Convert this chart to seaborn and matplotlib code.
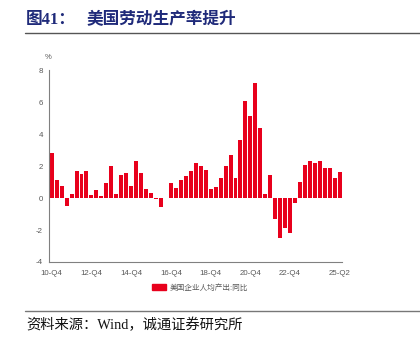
import matplotlib
matplotlib.use("Agg")
import matplotlib.pyplot as plt
import matplotlib.patches as mpatches
from matplotlib.lines import Line2D
import seaborn as sns
import pandas as pd

sns.set_theme(style="white")
plt.rcParams['font.family'] = ['Liberation Sans', 'Noto Sans CJK SC', 'DejaVu Sans']

# Quarterly labels 2010Q4 .. 2025Q2
quarters = [f"{y % 100:02d}-Q{q}" for y in range(2010, 2026) for q in range(1, 5)]
quarters = quarters[quarters.index("10-Q4"):quarters.index("25-Q2") + 1]

# US nonfarm business output per worker, YoY (%)
productivity_yoy = [
    2.83, 1.13, 0.77, -0.52, 0.25, 1.68, 1.49, 1.68, 0.17, 0.50,
    0.13, 0.94, 2.01, 0.27, 1.45, 1.59, 0.77, 2.30, 1.55, 0.59,
    0.31, -0.06, -0.59, -0.02, 0.96, 0.65, 1.15, 1.36, 1.68, 2.16,
    2.03, 1.78, 0.57, 0.69, 1.28, 1.99, 2.72, 1.24, 3.62, 6.07,
    5.15, 7.18, 4.40, 0.27, 1.45, -1.32, -2.53, -1.90, -2.16, -0.29,
    1.03, 2.09, 2.30, 2.20, 2.32, 1.90, 1.88, 1.28, 1.63,
]

tick_labels = ["10-Q4", "12-Q4", "14-Q4", "16-Q4", "18-Q4", "20-Q4", "22-Q4", "25-Q2"]
y_ticks = [-4, -2, 0, 2, 4, 6, 8]

series_name = "美国企业人均产出:同比"
bar_color = "#E8001C"
axis_gray = "#808080"
text_gray = "#595959"

df = pd.DataFrame({"quarter": quarters, "value": productivity_yoy})

fig = plt.figure(figsize=(4.2, 3.47), dpi=100)
ax = fig.add_axes([0.1174, 0.245, 0.697, 0.553])

sns.barplot(data=df, x="quarter", y="value", order=quarters, color=bar_color,
            saturation=1, width=0.8, ax=ax, edgecolor="none")

ax.set_xlim(-0.48, 58.45)
ax.set_ylim(-4, 8)
ax.set_yticks(y_ticks)
ax.set_yticklabels([str(v) for v in y_ticks])

# every 4th quarter gets a tick, labels on every 8th plus the latest quarter
tick_pos = list(range(0, len(quarters), 4)) + [len(quarters) - 1]
ax.set_xticks(tick_pos)
ax.set_xticklabels([quarters[i] if quarters[i] in tick_labels else "" for i in tick_pos])

ax.set_xlabel("")
ax.set_ylabel("")
for side in ("top", "right"):
    ax.spines[side].set_visible(False)
for side in ("left", "bottom"):
    ax.spines[side].set_color(axis_gray)
    ax.spines[side].set_linewidth(0.8)
ax.tick_params(axis="both", which="both", direction="out", length=4, width=0.8,
               color=axis_gray, labelsize=5.7, labelcolor=text_gray, pad=1.5)
ax.tick_params(axis="y", length=3)

fig.text(0.114, 0.835, "%", fontsize=5.5, color=text_gray, ha="center", va="center")

# legend below the plot
handle = mpatches.Patch(color=bar_color, label=series_name)
fig.legend(handles=[handle], loc="center left", bbox_to_anchor=(0.345, 0.17),
           frameon=False, fontsize=5.5, labelcolor=text_gray,
           handlelength=1.9, handleheight=0.9, handletextpad=0.5)

# header and footer
title_font = ['Liberation Serif', 'Noto Sans CJK SC']
fig.text(0.062, 0.942, "图41：", fontsize=12, fontweight="bold", color="#1F2A7A",
         family=title_font, va="center", ha="left")
fig.text(0.205, 0.942, "美国劳动生产率提升", fontsize=12, fontweight="bold",
         color="#1F2A7A", family=title_font, va="center", ha="left")
fig.add_artist(Line2D([0.06, 1.0], [0.905, 0.905], transform=fig.transFigure,
                      color="#555555", linewidth=1.0))
fig.add_artist(Line2D([0.06, 1.0], [0.103, 0.103], transform=fig.transFigure,
                      color="#777777", linewidth=1.0))
fig.text(0.062, 0.063, "资料来源：Wind，诚通证券研究所", fontsize=10.3, color="#111111",
         family=title_font, va="center", ha="left")

fig.savefig("out.png", dpi=100)
